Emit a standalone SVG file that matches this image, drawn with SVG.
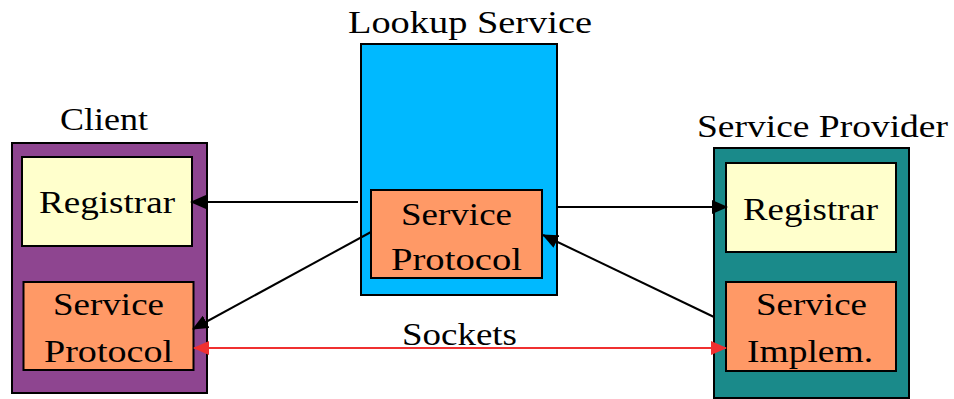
<svg xmlns="http://www.w3.org/2000/svg" width="954" height="399" viewBox="0 0 954 399">
<style>
.box{stroke:#000;stroke-width:2}
.reg{fill:#FFFFCC;stroke:#000;stroke-width:2}
.org{fill:#FF9966;stroke:#000;stroke-width:2}
.ln{stroke:#000;stroke-width:2;fill:none}
.red{stroke:#F03030;stroke-width:2;fill:none}
</style>
<defs>
<marker id="ah" viewBox="0 0 16 14" refX="15" refY="7" markerWidth="16" markerHeight="14" markerUnits="userSpaceOnUse" orient="auto">
<path d="M0,0 L16,7 L0,14 Z" fill="#000"/>
</marker>
<marker id="rh" viewBox="0 0 16 14" refX="15" refY="7" markerWidth="16" markerHeight="14" markerUnits="userSpaceOnUse" orient="auto-start-reverse">
<path d="M0,0 L16,7 L0,14 Z" fill="#F03030"/>
</marker>
</defs>
<g font-family="Liberation Serif, Times New Roman, serif" font-size="32" fill="#000">
<g id="client">
<rect class="box" x="12" y="143" width="195" height="250" fill="#8E4590"/>
<text x="60" y="130" textLength="88" lengthAdjust="spacingAndGlyphs">Client</text>
<g id="client-registrar">
<rect class="reg" x="22" y="157" width="170" height="89"/>
<text x="39" y="213" textLength="136" lengthAdjust="spacingAndGlyphs">Registrar</text>
</g>
<g id="client-protocol">
<rect class="org" x="23.5" y="282" width="170" height="88"/>
<text x="53" y="315" textLength="111" lengthAdjust="spacingAndGlyphs">Service</text>
<text x="44" y="362" textLength="129" lengthAdjust="spacingAndGlyphs">Protocol</text>
</g>
</g>
<g id="lookup">
<rect class="box" x="361" y="44" width="196" height="251" fill="#00B9FF"/>
<text x="348" y="33" textLength="244" lengthAdjust="spacingAndGlyphs">Lookup Service</text>
<g id="lookup-protocol">
<rect class="org" x="371" y="190" width="171" height="88"/>
<text x="401" y="225" textLength="111" lengthAdjust="spacingAndGlyphs">Service</text>
<text x="391" y="270" textLength="131" lengthAdjust="spacingAndGlyphs">Protocol</text>
</g>
</g>
<g id="provider">
<rect class="box" x="714" y="148" width="195" height="250" fill="#1A8A8A"/>
<text x="697" y="137" textLength="251" lengthAdjust="spacingAndGlyphs">Service Provider</text>
<g id="provider-registrar">
<rect class="reg" x="726" y="163" width="170" height="89"/>
<text x="743" y="220" textLength="135" lengthAdjust="spacingAndGlyphs">Registrar</text>
</g>
<g id="provider-implem">
<rect class="org" x="726" y="282" width="170" height="89"/>
<text x="756" y="315" textLength="111" lengthAdjust="spacingAndGlyphs">Service</text>
<text x="747" y="362" textLength="126" lengthAdjust="spacingAndGlyphs">Implem.</text>
</g>
</g>
<g id="connectors">
<line class="ln" x1="358" y1="202" x2="191" y2="202" marker-end="url(#ah)"/>
<line class="ln" x1="371" y1="232" x2="193" y2="329" marker-end="url(#ah)"/>
<line class="ln" x1="558" y1="207" x2="727" y2="207" marker-end="url(#ah)"/>
<line class="ln" x1="714" y1="317" x2="543" y2="235" marker-end="url(#ah)"/>
<line class="red" x1="194" y1="348" x2="726" y2="348" marker-start="url(#rh)" marker-end="url(#rh)"/>
<text x="402" y="345" textLength="115" lengthAdjust="spacingAndGlyphs">Sockets</text>
</g>
</g>
</svg>
